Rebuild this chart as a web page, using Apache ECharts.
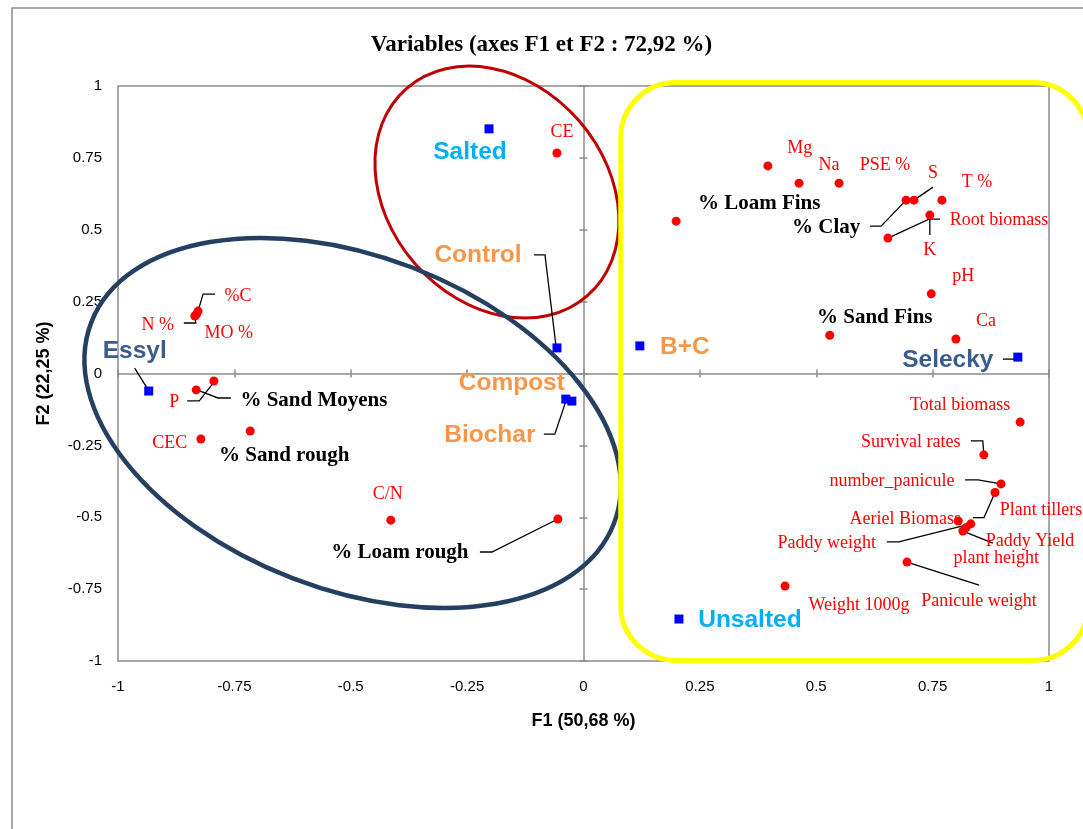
<!DOCTYPE html>
<html>
<head>
<meta charset="utf-8">
<script src="https://cdn.jsdelivr.net/npm/echarts/dist/echarts.min.js"></script>
<style>
html,body{margin:0;padding:0;background:#fff;}
#chart{width:1083px;height:829px;}
</style>
</head>
<body>
<div id="chart"></div>
<script>
// ---------------- DATA ----------------
const variableNames = ['CE','Mg','Na','PSE %','S','T %','% Clay','K','Root biomass','pH','% Sand Fins','Ca','% Loam Fins',
  'Total biomass','Survival rates','number_panicule','Plant tillers','Aeriel Biomass','Paddy weight','Paddy Yield','plant height',
  'Panicule weight','Weight 1000g','C/N','% Loam rough','%C','N %','MO %','P','% Sand Moyens','CEC','% Sand rough'];
const variableF1 = [-0.057,0.396,0.463,0.549,0.710,0.770,0.693,0.744,0.654,0.747,0.529,0.800,0.199,
  0.938,0.860,0.897,0.884,0.805,0.832,0.815,0.822,
  0.695,0.433,-0.414,-0.055,-0.828,-0.835,-0.831,-0.832,-0.794,-0.822,-0.716];
const variableF2 = [0.767,0.722,0.662,0.662,0.603,0.603,0.603,0.551,0.471,0.277,0.133,0.120,0.530,
  -0.169,-0.283,-0.384,-0.414,-0.513,-0.523,-0.548,-0.536,
  -0.656,-0.739,-0.510,-0.506,0.217,0.200,0.207,-0.057,-0.026,-0.228,-0.200];

const siteNames = ['Salted','Control','Compost','Biochar','Essyl','B+C','Selecky','Unsalted'];
const siteF1 = [-0.203,-0.057,-0.038,-0.025,-0.934,0.121,0.933,0.205];
const siteF2 = [0.851,0.089,-0.089,-0.096,-0.061,0.096,0.057,-0.854];

const axisTicks = [-1,-0.75,-0.5,-0.25,0,0.25,0.5,0.75,1];
const textureNames = ['% Loam Fins','% Clay','% Sand Fins','% Sand Moyens','% Sand rough','% Loam rough'];

// ---------------- LAYOUT (label offsets / leader lines, in px relative to point) ----------------
const labelOffsets = {
  'CE':[5,-21],'Mg':[32,-18],'Na':[30,-18],'PSE %':[46,-18],'S':[19,-27],'T %':[35,-18],'% Clay':[-80,27],
  'K':[0,35],'Root biomass':[111,-18],'pH':[32,-18],'% Sand Fins':[45,-18],'Ca':[30,-18],'% Loam Fins':[83,-18],
  'Total biomass':[-60,-17],'Survival rates':[-73,-13],'number_panicule':[-109,-3],'Plant tillers':[46,18],
  'Aeriel Biomass':[-53,-2],'Paddy weight':[-144,19],'Paddy Yield':[67,10],'plant height':[30,31],
  'Panicule weight':[72,39],'Weight 1000g':[74,19],'C/N':[-3,-26],'% Loam rough':[-158,34],
  '%C':[40,-15],'N %':[-37,9],'MO %':[32,19],'P':[-22,12],'% Sand Moyens':[100,20],'CEC':[-31,4],'% Sand rough':[34,25],
  'Salted':[-19,23],'Control':[-79,-93],'Compost':[-54,-16],'Biochar':[-82,34],'Essyl':[-14,-40],
  'B+C':[45,1],'Selecky':[-70,3],'Unsalted':[71,1]
};
const leaderLines = {
  'S':[[19,-13],[0,0]],
  '% Clay':[[-36,26],[-25,26],[0,0]],
  'K':[[0,20],[0,0]],
  'Root biomass':[[52,-19],[41,-19],[0,0]],
  'Survival rates':[[-13,-14],[-1,-14],[0,0]],
  'number_panicule':[[-36,-4],[-23,-4],[0,0]],
  'Plant tillers':[[-22,25],[-11,25],[0,0]],
  'Paddy weight':[[-84,18],[-72,18],[0,0]],
  'Paddy Yield':[[30,12],[0,0]],
  'Panicule weight':[[72,23],[0,0]],
  '% Loam rough':[[-78,33],[-66,33],[0,0]],
  '%C':[[17,-17],[5,-17],[0,0]],
  'N %':[[-11,7],[1,7],[0,0]],
  'P':[[-9,11],[3,11],[18,-8]],
  '% Sand Moyens':[[17,17],[4,17],[-17,9]],
  'Control':[[-23,-93],[-12,-93],[-1,-2]],
  'Biochar':[[-28,33],[-17,33],[-6,0]],
  'Essyl':[[-14,-23],[-1,-2]],
  'Selecky':[[-15,2],[-2,2]]
};
const siteColors = {'Salted':'#00B0F0','Unsalted':'#00B0F0','Control':'#F79646','Compost':'#F79646',
  'Biochar':'#F79646','B+C':'#F79646','Essyl':'#3A5D8C','Selecky':'#3A5D8C'};

// ---------------- BUILD ----------------
const serif = "'Liberation Serif','Times New Roman',serif";
const sans = "'Liberation Sans',Arial,sans-serif";

const varData = variableNames.map((n,i)=>{
  const bold = textureNames.includes(n);
  return {
    name:n, value:[variableF1[i], variableF2[i]],
    label:{show:true, position:'inside', offset:labelOffsets[n], formatter:n,
      color: bold ? '#000' : '#FF0000', fontFamily: serif,
      fontWeight: bold ? 'bold' : 'normal', fontSize: bold ? 21 : 18,
      align:'center', verticalAlign:'middle'}
  };
});
const siteData = siteNames.map((n,i)=>({
  name:n, value:[siteF1[i], siteF2[i]],
  label:{show:true, position:'inside', offset:labelOffsets[n], formatter:n,
    color: siteColors[n], fontFamily: sans, fontWeight:'bold', fontSize:24.5,
    align:'center', verticalAlign:'middle'}
}));

const leaderKeys = Object.keys(leaderLines);
const leaderData = leaderKeys.map((n,k)=>{
  let i = variableNames.indexOf(n);
  if (i >= 0) return [variableF1[i], variableF2[i], k];
  i = siteNames.indexOf(n);
  return [siteF1[i], siteF2[i], k];
});

const axisCommon = {type:'value', min:-1, max:1, interval:0.25, splitLine:{show:false}};
const grayLine = {color:'#8c8c8c', width:1.5};

const option = {
  animation:false,
  backgroundColor:'#fff',
  title:{text:'Variables (axes F1 et F2 : 72,92 %)', left:'center', top:29,
    textStyle:{fontFamily:serif, fontWeight:'bold', fontSize:23, color:'#000'}},
  grid:{left:118, right:34, top:86, bottom:168, show:true, borderColor:'#8c8c8c', borderWidth:1.5},
  xAxis:[
    Object.assign({}, axisCommon, {position:'bottom', axisLine:{show:false, onZero:false}, axisTick:{show:false},
      axisLabel:{color:'#000', fontFamily:sans, fontSize:15, margin:18, formatter:v=>String(v)},
      name:'F1 (50,68 %)', nameLocation:'middle', nameGap:51,
      nameTextStyle:{fontFamily:sans, fontWeight:'bold', fontSize:18, color:'#000'}}),
    Object.assign({}, axisCommon, {position:'bottom', axisLine:{show:true, onZero:true, onZeroAxisIndex:0, lineStyle:grayLine},
      axisTick:{show:true, length:4, inside:false, lineStyle:grayLine}, axisLabel:{show:false}}),
    Object.assign({}, axisCommon, {position:'bottom', axisLine:{show:false, onZero:true, onZeroAxisIndex:1, lineStyle:grayLine},
      axisTick:{show:true, length:4, inside:true, lineStyle:grayLine}, axisLabel:{show:false}})
  ],
  yAxis:[
    Object.assign({}, axisCommon, {position:'left', axisLine:{show:false, onZero:false}, axisTick:{show:false},
      axisLabel:{color:'#000', fontFamily:sans, fontSize:15, margin:16, formatter:v=>String(v)},
      name:'F2 (22,25 %)', nameLocation:'middle', nameGap:65,
      nameTextStyle:{fontFamily:sans, fontWeight:'bold', fontSize:18, color:'#000'}}),
    Object.assign({}, axisCommon, {position:'left', axisLine:{show:true, onZero:true, onZeroAxisIndex:0, lineStyle:grayLine},
      axisTick:{show:true, length:4, inside:false, lineStyle:grayLine}, axisLabel:{show:false}}),
    Object.assign({}, axisCommon, {position:'left', axisLine:{show:false, onZero:true, onZeroAxisIndex:1, lineStyle:grayLine},
      axisTick:{show:true, length:4, inside:true, lineStyle:grayLine}, axisLabel:{show:false}})
  ],
  series:[
    {type:'custom', name:'leaders', xAxisIndex:0, yAxisIndex:0, clip:false, z:3, silent:true,
      data:leaderData,
      renderItem:function(params, api){
        const p = api.coord([api.value(0), api.value(1)]);
        const pts = leaderLines[leaderKeys[api.value(2)]].map(o=>[p[0]+o[0], p[1]+o[1]]);
        return {type:'polyline', shape:{points:pts}, style:{stroke:'#000', lineWidth:1.3, fill:null}};
      }},
    {type:'scatter', name:'Variables', xAxisIndex:0, yAxisIndex:0, symbol:'circle', symbolSize:9,
      itemStyle:{color:'#FF0000', opacity:1}, data:varData, z:4},
    {type:'scatter', name:'Sites', xAxisIndex:0, yAxisIndex:0, symbol:'rect', symbolSize:9,
      itemStyle:{color:'#0000FF', opacity:1}, data:siteData, z:4}
  ]
};

const chart = echarts.init(document.getElementById('chart'), null, {renderer:'canvas'});
chart.setOption(option);

// ---------------- ANNOTATION SHAPES (group outlines) ----------------
const groupEllipses = [
  {center:[-0.186, 0.631], rx:137.5, ry:108.8, tilt:49, color:'#C00000', width:3},
  {center:[-0.496,-0.172], rx:280, ry:166.5, tilt:21, color:'#243F60', width:4.5}
];
const groupBox = {from:[0.080, 1.012], to:[1.084, -0.998], radius:55, color:'#FFFF00', width:5};

const toPx = p => chart.convertToPixel({xAxisIndex:0, yAxisIndex:0}, p);
const graphics = [];
graphics.push({type:'rect', z:0, silent:true, shape:{x:12, y:8, width:1200, height:1000},
  style:{fill:'none', stroke:'#8c8c8c', lineWidth:1.5}});
groupEllipses.forEach(e=>{
  const c = toPx(e.center);
  graphics.push({type:'ellipse', z:1, silent:true, x:c[0], y:c[1], rotation:-e.tilt*Math.PI/180,
    shape:{cx:0, cy:0, rx:e.rx, ry:e.ry}, style:{fill:'none', stroke:e.color, lineWidth:e.width}});
});
{
  const a = toPx(groupBox.from), b = toPx(groupBox.to);
  graphics.push({type:'rect', z:1, silent:true,
    shape:{x:a[0], y:a[1], width:b[0]-a[0], height:b[1]-a[1], r:groupBox.radius},
    style:{fill:'none', stroke:groupBox.color, lineWidth:groupBox.width}});
}
chart.setOption({graphic:graphics});
</script>
</body>
</html>
